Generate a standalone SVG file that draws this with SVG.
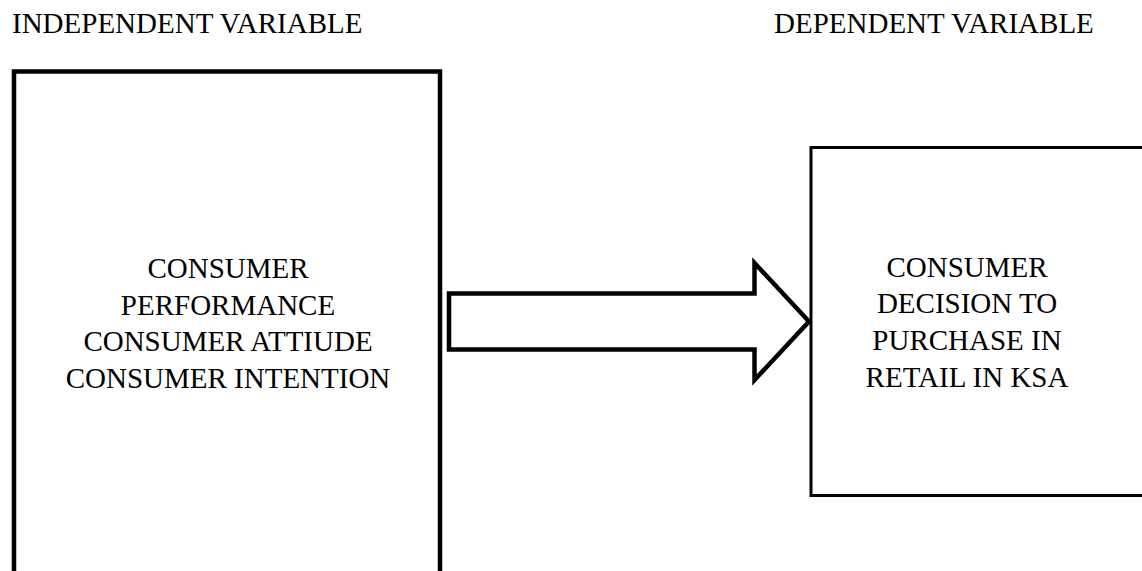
<svg xmlns="http://www.w3.org/2000/svg" width="1142" height="571" viewBox="0 0 1142 571">
<style>
  .t { font-family: "Liberation Serif", "Times New Roman", serif; font-size: 29px; fill: #000; }
  .c { text-anchor: middle; }
  .box { fill: #fff; stroke: #000; }
</style>
<rect width="1142" height="571" fill="#fff"/>
<g id="label-independent">
  <text class="t" x="12" y="33">INDEPENDENT VARIABLE</text>
</g>
<g id="label-dependent">
  <text class="t" x="774" y="33">DEPENDENT VARIABLE</text>
</g>
<g id="node-independent">
  <rect class="box" x="14" y="71.5" width="426" height="560" stroke-width="4.5"/>
  <text class="t c" x="228" y="278">CONSUMER</text>
  <text class="t c" x="228" y="315">PERFORMANCE</text>
  <text class="t c" x="228" y="351">CONSUMER ATTIUDE</text>
  <text class="t c" x="228" y="388">CONSUMER INTENTION</text>
</g>
<g id="node-dependent">
  <rect class="box" x="811" y="147.5" width="360" height="348" stroke-width="3"/>
  <text class="t c" x="967" y="277">CONSUMER</text>
  <text class="t c" x="967" y="313">DECISION TO</text>
  <text class="t c" x="967" y="350">PURCHASE IN</text>
  <text class="t c" x="967" y="387">RETAIL IN KSA</text>
</g>
<g id="connectors">
  <polygon points="449,293.5 754.5,293.5 754.5,263 809,321.5 754.5,380 754.5,349.5 449,349.5" fill="#fff" stroke="#000" stroke-width="4.5" stroke-linejoin="miter"/>
</g>
</svg>
